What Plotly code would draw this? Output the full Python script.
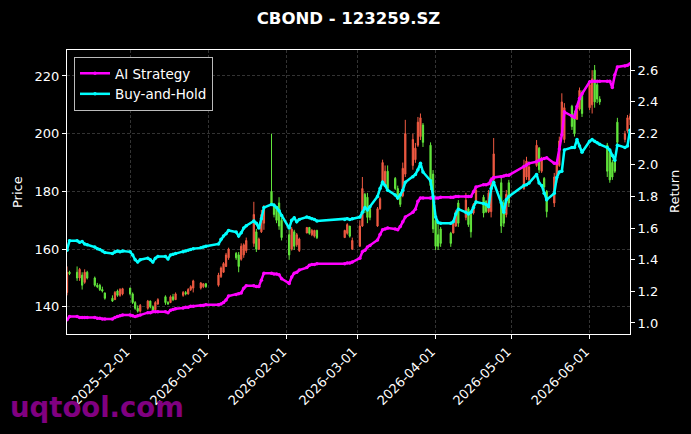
import plotly.graph_objects as go

dates = [
    "2025-11-06", "2025-11-07", "2025-11-10", "2025-11-11", "2025-11-12", "2025-11-13", "2025-11-14",
    "2025-11-17", "2025-11-18", "2025-11-19", "2025-11-20", "2025-11-21", "2025-11-24", "2025-11-25",
    "2025-11-26", "2025-11-27", "2025-11-28",
    "2025-12-01", "2025-12-02", "2025-12-03", "2025-12-04", "2025-12-05", "2025-12-08", "2025-12-09",
    "2025-12-10", "2025-12-11", "2025-12-12", "2025-12-15", "2025-12-16", "2025-12-17", "2025-12-18",
    "2025-12-19", "2025-12-22", "2025-12-23", "2025-12-24", "2025-12-25", "2025-12-26", "2025-12-29",
    "2025-12-30", "2025-12-31",
    "2026-01-05", "2026-01-06", "2026-01-07", "2026-01-08", "2026-01-09", "2026-01-12", "2026-01-13",
    "2026-01-14", "2026-01-15", "2026-01-16", "2026-01-19", "2026-01-20", "2026-01-21", "2026-01-22",
    "2026-01-23", "2026-01-26", "2026-01-27", "2026-01-28", "2026-01-29", "2026-01-30",
    "2026-02-02", "2026-02-03", "2026-02-04", "2026-02-05", "2026-02-06", "2026-02-09", "2026-02-10",
    "2026-02-11", "2026-02-12", "2026-02-13", "2026-02-24", "2026-02-25", "2026-02-26", "2026-02-27",
    "2026-03-02", "2026-03-03", "2026-03-04", "2026-03-05", "2026-03-06", "2026-03-09", "2026-03-10",
    "2026-03-11", "2026-03-12", "2026-03-13", "2026-03-16", "2026-03-17", "2026-03-18", "2026-03-19",
    "2026-03-20", "2026-03-23", "2026-03-24", "2026-03-25", "2026-03-26", "2026-03-27", "2026-03-30",
    "2026-03-31",
    "2026-04-01", "2026-04-02", "2026-04-03", "2026-04-07", "2026-04-08", "2026-04-09", "2026-04-10",
    "2026-04-13", "2026-04-14", "2026-04-15", "2026-04-16", "2026-04-17", "2026-04-20", "2026-04-21",
    "2026-04-22", "2026-04-23", "2026-04-24", "2026-04-27", "2026-04-28", "2026-04-29", "2026-04-30",
    "2026-05-06", "2026-05-07", "2026-05-08", "2026-05-11", "2026-05-12", "2026-05-13", "2026-05-14",
    "2026-05-15", "2026-05-18", "2026-05-19", "2026-05-20", "2026-05-21", "2026-05-22", "2026-05-25",
    "2026-05-26", "2026-05-27", "2026-05-28", "2026-05-29",
    "2026-06-01", "2026-06-02", "2026-06-03", "2026-06-04", "2026-06-05", "2026-06-08", "2026-06-09",
    "2026-06-10", "2026-06-11", "2026-06-12", "2026-06-15", "2026-06-16", "2026-06-17",
]

open_px = [
    145, 152, 152, 150, 151, 148.5, 152, 150, 147.5, 147.5, 146, 144.8, 143, 142.5, 145.5, 144, 144.5,
    146.5, 144.5, 141.5, 139.5, 138.5, 139.5, 142, 140, 139, 141, 143.5, 141.5, 141.5, 143.5, 142.5,
    144, 145, 144.5, 146, 146.5, 146.5, 147, 148,
    147.5, 150.5, 152, 154, 157, 158.5, 158, 156.5, 158, 159.5, 162, 166, 160, 166, 169, 180, 175, 174, 176, 170,
    165, 160, 166, 161.5, 159.5, 165.6, 167.5, 165, 164.5, 166.5, 164, 165.5, 168, 160,
    161, 168, 179, 178, 174, 168, 174, 183.5, 182, 187, 184.5, 181, 179, 178.5, 186, 189, 191, 196, 199, 203, 196, 186,
    170, 165, 167, 165.5, 165.6, 168, 176, 171, 174, 172, 172.5, 176, 178, 176.5, 173, 173, 184, 183, 176, 172, 183,
    181, 185, 184, 189, 195, 187, 184.5, 180, 176, 184, 189, 200, 198, 209.5, 207, 205, 208.5, 214,
    209, 210, 222, 217, 212, 196, 193.5, 190, 191, 204, 198, 201, 205,
]
high_px = [
    154, 152.5, 154, 153.5, 152, 153, 152.5, 150.5, 148.3, 148, 147, 145, 144, 145.5, 146, 146.5, 146.6,
    146.6, 145, 142, 140.5, 141, 142.4, 142.2, 140.5, 142, 143, 144, 142, 144, 144.5, 145,
    145.5, 145.5, 146.5, 147.5, 149.4, 148.6, 148.2, 148.3,
    151.8, 154, 155.5, 158.7, 160.5, 159, 159, 162, 162, 164, 176.4, 167, 164, 173.6, 175.3, 200, 176, 175, 178, 171,
    166.7, 167.7, 166.7, 165.6, 164, 167.7, 167.7, 167, 166.7, 166.7, 166.7, 169, 168, 164,
    170, 185, 179.5, 179.5, 174.6, 174.6, 178, 191, 189, 189, 185, 182, 179.5, 190, 204.8, 200, 196.8, 205.8, 207, 203.7, 197, 187.4,
    171, 169, 167.7, 166, 170, 173.6, 177, 179.5, 174.6, 172.5, 176, 181.5, 178.8, 177, 180.5, 185, 198.5, 184.7, 177, 180.5, 184,
    191, 192, 190, 197.8, 195.4, 192, 185, 180.5, 186.4, 191, 199, 214, 210.6, 210, 208, 209, 216, 215,
    218.6, 222, 223.8, 217.6, 213, 196.8, 194.4, 191, 192, 205.5, 201, 206.5, 207,
]
low_px = [
    144, 151, 149, 149, 146, 148, 149.5, 147, 146.5, 145.5, 145, 142.5, 141.7, 142.5, 143.5, 143.5, 144,
    144, 141, 139, 138, 138, 139, 139.5, 138, 138.5, 140.7, 140.7, 140.7, 141.3, 142, 142.4,
    143.5, 144, 144.2, 145.5, 145, 146, 146.5, 146.6,
    147, 150, 151.8, 153.8, 156.3, 156.3, 152, 156, 157, 158.7, 160.8, 159, 159.7, 165.6, 166.7, 175, 171, 169, 166.7, 163,
    156.3, 159.5, 159.7, 160.8, 159, 165.5, 165, 164.5, 164, 163.5, 164, 165, 164, 159.7,
    160.8, 167.7, 172.5, 169, 170, 167.7, 173.6, 183, 181.5, 180.5, 180.5, 177, 174.6, 178, 185, 187.5, 189.9, 195.4, 197.8, 195.4, 180.5, 165.6,
    159.7, 159.7, 160.8, 160.8, 165.5, 167.7, 167.7, 170, 167.7, 164, 172, 175.8, 171, 172.5, 172.5, 171, 183, 165.6, 167.7, 171, 174.6,
    180.5, 184, 183, 188.5, 186.4, 186.4, 180.5, 171, 174.6, 183, 188.5, 199.5, 196.8, 201.3, 199, 204.8, 208, 205.8,
    208.2, 207, 209, 210.6, 210, 185, 183, 184, 186.4, 195.4, 197, 200.3, 203,
]
close_px = [
    152, 151.5, 150, 153, 147.5, 152, 150, 147.5, 147, 146, 145.5, 143, 142, 145, 144, 146, 146.3,
    144.5, 141.5, 139.5, 138.5, 140.5, 142, 140, 138.5, 141.5, 142.5, 141.5, 141, 143.5, 142.5, 144.5,
    145, 144.5, 146, 147, 149, 148.3, 148, 147,
    151, 153.5, 155, 158, 160, 157, 154, 161, 161.5, 163, 172, 160, 163.5, 172, 174, 176, 172, 170, 168, 164,
    158, 167, 161, 165, 163.5, 167.5, 165.5, 166.5, 166.5, 164, 166.5, 168.5, 164.5, 163,
    168, 181, 174, 171, 171, 174, 177.5, 190, 187, 181, 181, 178, 175.5, 188, 200, 198, 195, 204, 205.5, 197, 182, 167,
    161, 161, 162, 162, 169, 173, 169, 177, 168.5, 166, 175.5, 180.5, 172.5, 173, 179.5, 183, 193, 168, 169, 179, 176,
    189, 190.5, 188.5, 196, 187.5, 191, 181.5, 173, 185, 190, 197.5, 211, 209, 202.5, 200, 208, 215, 207,
    217, 219, 211, 212, 211, 187, 184, 185, 187, 197, 200, 205.5, 206,
]

ai_strategy = [
    1.02, 1.04, 1.04, 1.035, 1.035, 1.035, 1.035, 1.035, 1.03, 1.03, 1.025, 1.025, 1.025, 1.035, 1.04, 1.045, 1.05,
    1.05, 1.045, 1.04, 1.045, 1.05, 1.065, 1.065, 1.07, 1.07, 1.07, 1.07, 1.065, 1.08, 1.085, 1.09,
    1.095, 1.10, 1.10, 1.105, 1.105, 1.11, 1.11, 1.115,
    1.115, 1.12, 1.13, 1.145, 1.17, 1.18, 1.185, 1.19, 1.22, 1.235, 1.235, 1.23, 1.23, 1.27, 1.315,
    1.315, 1.31, 1.31, 1.305, 1.28,
    1.25, 1.29, 1.315, 1.32, 1.335, 1.35, 1.365, 1.37, 1.37, 1.375, 1.375, 1.38, 1.38, 1.385,
    1.41, 1.45, 1.46, 1.48, 1.49, 1.525, 1.56, 1.59, 1.595, 1.60, 1.595, 1.59, 1.61, 1.64, 1.67,
    1.70, 1.72, 1.77, 1.79, 1.79, 1.79, 1.79,
    1.79, 1.79, 1.795, 1.795, 1.795, 1.80, 1.80, 1.80, 1.80, 1.80, 1.83, 1.86, 1.875, 1.875, 1.88,
    1.905, 1.92, 1.925, 1.93, 1.935, 1.935,
    1.99, 2.0, 2.01, 2.02, 2.03, 2.035, 2.04, 2.045, 2.01, 2.01, 2.10, 2.19, 2.335, 2.31, 2.30, 2.37, 2.42, 2.45,
    2.525, 2.53, 2.53, 2.53, 2.53, 2.53, 2.53, 2.49, 2.57, 2.62, 2.625, 2.63, 2.64,
]
buy_and_hold = [
    1.46, 1.52, 1.52, 1.51, 1.515, 1.50, 1.495, 1.48, 1.47, 1.465, 1.455, 1.445, 1.44, 1.45, 1.455, 1.45, 1.455,
    1.45, 1.43, 1.40, 1.385, 1.40, 1.41, 1.40, 1.385, 1.41, 1.42, 1.42, 1.405, 1.43, 1.435, 1.44,
    1.45, 1.455, 1.46, 1.465, 1.47, 1.475, 1.48, 1.485,
    1.50, 1.53, 1.55, 1.565, 1.585, 1.575, 1.55, 1.57, 1.60, 1.615, 1.645, 1.63, 1.60, 1.66, 1.73,
    1.75, 1.745, 1.73, 1.71, 1.68,
    1.60, 1.65, 1.665, 1.64, 1.655, 1.67, 1.665, 1.66, 1.655, 1.645, 1.655, 1.66, 1.655, 1.66,
    1.67, 1.70, 1.73, 1.715, 1.735, 1.80, 1.85, 1.89, 1.87, 1.84, 1.81, 1.79, 1.81, 1.84, 1.89,
    1.925, 1.94, 1.97, 2.01, 1.955, 1.90, 1.80,
    1.67, 1.635, 1.63, 1.63, 1.64, 1.69, 1.72, 1.70, 1.69, 1.70, 1.73, 1.765, 1.755, 1.75, 1.735,
    1.85, 1.89, 1.76, 1.70, 1.78, 1.80,
    1.87, 1.875, 1.885, 1.94, 1.885, 1.87, 1.82, 1.78, 1.82, 1.92, 1.955, 1.96, 2.095, 2.11, 2.11, 2.16, 2.12, 2.08,
    2.15, 2.16, 2.15, 2.14, 2.13, 2.11, 2.095, 2.06, 2.03, 2.125, 2.11, 2.12, 2.22,
]

month_ticks = ["2025-12-01", "2026-01-01", "2026-02-01", "2026-03-01", "2026-04-01", "2026-05-01", "2026-06-01"]
price_ticks = [140, 160, 180, 200, 220]
return_ticks = [1.0, 1.2, 1.4, 1.6, 1.8, 2.0, 2.2, 2.4, 2.6]

FONT = "DejaVu Sans"
W, H = 691, 434
L, R, T, B = 67, 61, 50, 100
PW, PH = W - L - R, H - T - B
TICK = 13

fig = go.Figure()
fig.add_trace(go.Candlestick(
    x=dates, open=open_px, high=high_px, low=low_px, close=close_px,
    increasing=dict(line=dict(color="#ef5a42", width=1), fillcolor="#ef5a42"),
    decreasing=dict(line=dict(color="#62e63c", width=1), fillcolor="#62e63c"),
    whiskerwidth=0, showlegend=False, yaxis="y", name="Price",
))
fig.add_trace(go.Scatter(
    x=dates, y=ai_strategy, name="AI Strategy", mode="lines+markers",
    line=dict(color="#ff00ff", width=2.5), marker=dict(color="#ff00ff", size=3.5),
    yaxis="y2",
))
fig.add_trace(go.Scatter(
    x=dates, y=buy_and_hold, name="Buy-and-Hold", mode="lines+markers",
    line=dict(color="#00ffff", width=2.5), marker=dict(color="#00ffff", size=3.5),
    yaxis="y2",
))

grid = "rgba(128,128,128,0.4)"
fig.update_layout(
    width=W, height=H, autosize=False,
    margin=dict(l=L, r=R, t=T, b=B, pad=0),
    paper_bgcolor="black", plot_bgcolor="black",
    font=dict(family=FONT, color="white", size=TICK),
    title=dict(text="<b>CBOND - 123259.SZ</b>", x=0.5, xref="paper", xanchor="center",
               y=1 - 18 / H, yref="container", yanchor="middle",
               font=dict(family=FONT, size=16.5, color="white")),
    showlegend=True,
    legend=dict(x=7 / PW, y=1 - 7 / PH, xanchor="left", yanchor="top",
                bgcolor="black", bordercolor="#bbbbbb", borderwidth=1,
                font=dict(family=FONT, size=13.5, color="white"),
                itemwidth=30),
    xaxis=dict(type="date", range=["2025-11-06", "2026-06-17"],
               tickmode="array", tickvals=month_ticks, ticktext=month_ticks,
               tickangle=-45, ticks="outside", ticklen=4, tickcolor="white",
               ticklabelshift=-4,
               showline=True, linecolor="white", linewidth=1, mirror=True,
               showgrid=True, gridcolor=grid, griddash="3px,2px", gridwidth=0.6,
               rangeslider=dict(visible=False), zeroline=False,
               tickfont=dict(family=FONT, size=TICK, color="white")),
    yaxis=dict(range=[130.6, 229.0], tickvals=price_ticks, ticks="outside", ticklen=4,
               tickcolor="white", showline=True, linecolor="white", linewidth=1, mirror=True,
               showgrid=True, gridcolor=grid, griddash="3px,2px", gridwidth=0.6, zeroline=False,
               tickfont=dict(family=FONT, size=TICK, color="white")),
    yaxis2=dict(range=[0.93, 2.727], tickvals=return_ticks, tickformat=".1f",
                overlaying="y", side="right", ticks="outside", ticklen=4, tickcolor="white",
                showline=True, linecolor="white", linewidth=1, showgrid=False, zeroline=False,
                tickfont=dict(family=FONT, size=TICK, color="white")),
    annotations=[
        dict(text="Price", xref="paper", yref="paper", x=(17 - L) / PW, y=0.5,
             xanchor="center", yanchor="middle", textangle=-90, showarrow=False,
             font=dict(family=FONT, size=TICK, color="white")),
        dict(text="Return", xref="paper", yref="paper", x=(674 - L) / PW, y=0.5,
             xanchor="center", yanchor="middle", textangle=-90, showarrow=False,
             font=dict(family=FONT, size=TICK, color="white")),
        dict(text="<b>uqtool.com</b>", xref="paper", yref="paper", x=(8 - L) / PW,
             y=(T + PH - 407) / PH, xanchor="left", yanchor="middle", showarrow=False,
             font=dict(family=FONT, size=27.5, color="#800080")),
    ],
)

fig.write_html("out.html")
